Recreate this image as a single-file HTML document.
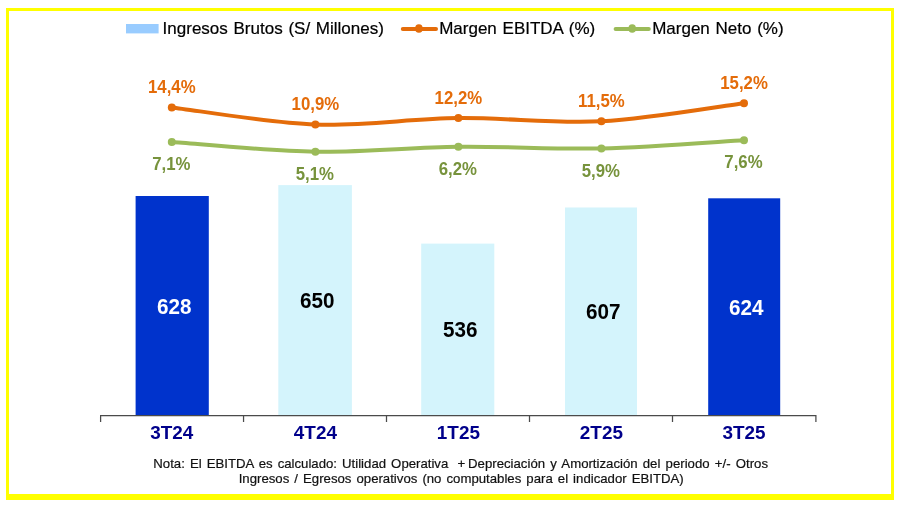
<!DOCTYPE html>
<html lang="es"><head><meta charset="utf-8"><title>Ingresos Brutos y Márgenes</title>
<style>
html,body{margin:0;padding:0;background:#fff}
body{width:901px;height:508px;position:relative;overflow:hidden}
.frame{position:absolute;left:6px;top:8px;width:882px;height:483px;border:3px solid #FFFF00;border-bottom-width:6px}
svg{position:absolute;left:0;top:0}
text{font-family:"Liberation Sans",Arial,sans-serif}
.b{font-weight:bold;text-anchor:middle}
.val{font-size:21.1px}
.pct{font-size:16.8px}
.cat{font-size:18.9px;fill:#00008B}
.lg{font-size:17px;fill:#000;stroke:#000;stroke-width:.2px;word-spacing:1.0px}
.note{font-size:13.2px;fill:#111;stroke:#111;stroke-width:.2px;text-anchor:middle;word-spacing:1.4px}
</style></head><body>
<div class="frame"></div>
<svg width="901" height="508" viewBox="0 0 901 508">
<!-- bars -->
<rect x="135.6" y="196.0" width="73.2" height="219.5" fill="#0033CC"/>
<rect x="278.3" y="185.1" width="73.6" height="230.4" fill="#D4F4FC"/>
<rect x="421.2" y="243.6" width="73.1" height="171.9" fill="#D4F4FC"/>
<rect x="565.0" y="207.5" width="72.0" height="208.0" fill="#D4F4FC"/>
<rect x="708.2" y="198.3" width="72.0" height="217.2" fill="#0033CC"/>
<!-- axis -->
<path d="M100.6 422V415.6H815.9V422M243.55 415.6V422M386.5 415.6V422M529.5 415.6V422M672.5 415.6V422" fill="none" stroke="#4a4a4a" stroke-width="1.25"/>
<!-- series lines -->
<path d="M171.8 141.9 C195.7 143.5 267.6 150.9 315.4 151.7 C363.2 152.5 410.7 147.4 458.4 146.8 C506.1 146.2 553.8 149.5 601.4 148.4 C649.0 147.3 720.2 141.6 744.0 140.2" fill="none" stroke="#9BBB59" stroke-width="4" stroke-linecap="round"/>
<circle cx="171.8" cy="141.9" r="4" fill="#9BBB59"/>
<circle cx="315.4" cy="151.7" r="4" fill="#9BBB59"/>
<circle cx="458.4" cy="146.8" r="4" fill="#9BBB59"/>
<circle cx="601.4" cy="148.4" r="4" fill="#9BBB59"/>
<circle cx="744.0" cy="140.2" r="4" fill="#9BBB59"/>
<path d="M171.8 107.4 C195.7 110.2 267.6 122.7 315.4 124.5 C363.2 126.3 410.7 118.6 458.4 118.1 C506.1 117.6 553.8 123.8 601.4 121.3 C649.0 118.8 720.2 106.2 744.0 103.2" fill="none" stroke="#E46C0A" stroke-width="4" stroke-linecap="round"/>
<circle cx="171.8" cy="107.4" r="4" fill="#E46C0A"/>
<circle cx="315.4" cy="124.5" r="4" fill="#E46C0A"/>
<circle cx="458.4" cy="118.1" r="4" fill="#E46C0A"/>
<circle cx="601.4" cy="121.3" r="4" fill="#E46C0A"/>
<circle cx="744.0" cy="103.2" r="4" fill="#E46C0A"/>
<!-- legend -->
<rect x="126" y="24" width="32.6" height="9.4" fill="#99CCFF"/>
<path d="M402.8 28.9H436" stroke="#E46C0A" stroke-width="4" stroke-linecap="round"/><ellipse cx="418.9" cy="28.5" rx="3.8" ry="4.3" fill="#E46C0A"/>
<path d="M615.6 28.9H648.8" stroke="#9BBB59" stroke-width="4" stroke-linecap="round"/><ellipse cx="632.2" cy="28.5" rx="3.8" ry="4.3" fill="#9BBB59"/>
<text class="lg" x="162.6" y="33.8">Ingresos Brutos (S/ Millones)</text>
<text class="lg" x="439.2" y="33.8">Margen EBITDA (%)</text>
<text class="lg" x="652.2" y="33.8">Margen Neto (%)</text>
<!-- labels -->
<text class="b val" transform="translate(174.3 313.6) scale(0.98 1.05)" fill="#fff">628</text>
<text class="b val" transform="translate(317.3 308.1) scale(0.98 1.05)" fill="#000">650</text>
<text class="b val" transform="translate(460.3 337.4) scale(0.98 1.05)" fill="#000">536</text>
<text class="b val" transform="translate(603.3 319.3) scale(0.98 1.05)" fill="#000">607</text>
<text class="b val" transform="translate(746.3 314.7) scale(0.98 1.05)" fill="#fff">624</text>
<text class="b cat" x="171.8" y="438.9">3T24</text>
<text class="b pct" transform="translate(171.8 92.8) scale(1 1.05)" fill="#E46C0A">14,4%</text>
<text class="b pct" transform="translate(171.3 170.0) scale(1 1.05)" fill="#77933C">7,1%</text>
<text class="b cat" x="315.4" y="438.9">4T24</text>
<text class="b pct" transform="translate(315.4 109.9) scale(1 1.05)" fill="#E46C0A">10,9%</text>
<text class="b pct" transform="translate(314.9 179.8) scale(1 1.05)" fill="#77933C">5,1%</text>
<text class="b cat" x="458.4" y="438.9">1T25</text>
<text class="b pct" transform="translate(458.4 103.5) scale(1 1.05)" fill="#E46C0A">12,2%</text>
<text class="b pct" transform="translate(457.9 174.9) scale(1 1.05)" fill="#77933C">6,2%</text>
<text class="b cat" x="601.4" y="438.9">2T25</text>
<text class="b pct" transform="translate(601.4 106.7) scale(1 1.05)" fill="#E46C0A">11,5%</text>
<text class="b pct" transform="translate(600.9 176.5) scale(1 1.05)" fill="#77933C">5,9%</text>
<text class="b cat" x="744.0" y="438.9">3T25</text>
<text class="b pct" transform="translate(744.0 88.6) scale(1 1.05)" fill="#E46C0A">15,2%</text>
<text class="b pct" transform="translate(743.5 168.3) scale(1 1.05)" fill="#77933C">7,6%</text>
<text class="note" y="467.9" style="text-anchor:start"><tspan x="153.3">Nota: El EBITDA es calculado: Utilidad Operativa</tspan> <tspan x="457.4">+</tspan> <tspan x="468.1" style="word-spacing:1.55px">Depreciación y Amortización del periodo +/- Otros</tspan></text>
<text class="note" x="461.2" y="483.4">Ingresos / Egresos operativos (no computables para el indicador EBITDA)</text>
</svg>
</body></html>
